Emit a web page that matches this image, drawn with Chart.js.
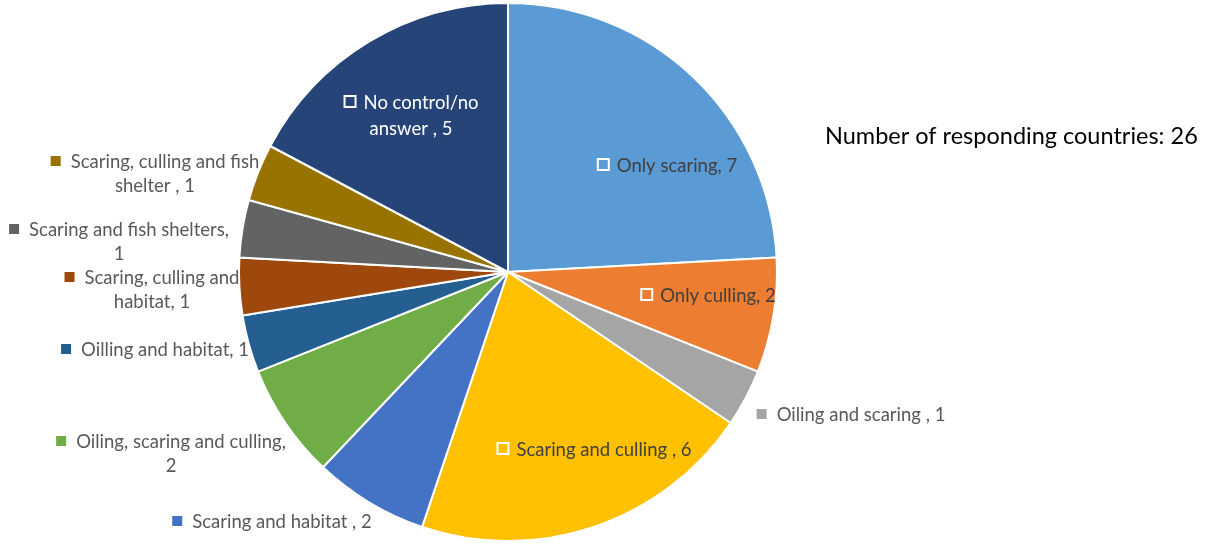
<!DOCTYPE html>
<html>
<head>
<meta charset="utf-8">
<script src="https://cdn.jsdelivr.net/npm/chart.js@4/dist/chart.umd.min.js"></script>
<style>
  html, body { margin: 0; padding: 0; background: #fff; }
  #wrap { width: 1210px; height: 544px; position: relative; }
</style>
</head>
<body>
<div id="wrap"><canvas id="myChart" width="1210" height="544"></canvas></div>
<script>
const categories = ['Only scaring', 'Only culling', 'Oiling and scaring ', 'Scaring and culling ',
  'Scaring and habitat ', 'Oiling, scaring and culling', 'Oilling and habitat', 'Scaring, culling and habitat',
  'Scaring and fish shelters', 'Scaring, culling and fish shelter ', 'No control/no answer '];
const counts = [7, 2, 1, 6, 2, 2, 1, 1, 1, 1, 5];
const respondents = 26;

const colors = ['#5B9BD5', '#ED7D31', '#A5A5A5', '#FFC000', '#4472C4', '#70AD47',
  '#255E91', '#9E480E', '#636363', '#997300', '#264478'];

// label text lines (as wrapped in the picture), position of the label block and whether it sits inside
const labelLines = [
  ['Only scaring, 7'], ['Only culling, 2'], ['Oiling and scaring , 1'], ['Scaring and culling , 6'],
  ['Scaring and habitat , 2'], ['Oiling, scaring and culling,', '2'], ['Oilling and habitat, 1'],
  ['Scaring, culling and', 'habitat, 1'], ['Scaring and fish shelters,', '1'],
  ['Scaring, culling and fish', 'shelter , 1'], ['No control/no', 'answer , 5']
];
const labelAt = [[667, 165], [708, 295], [851, 414], [594, 449], [272, 521], [171, 441],
  [155, 349], [152, 277], [119, 229], [155, 161], [411, 102]];
const inside = [true, true, false, true, false, false, false, false, false, false, true];

const labelPlugin = {
  id: 'sliceLabels',
  afterDraw(chart) {
    const c = chart.ctx;
    c.save();
    c.font = '18.5px Lato, "Open Sans", sans-serif';
    c.textBaseline = 'middle';
    c.textAlign = 'left';
    labelLines.forEach((lines, i) => {
      const [cx, cy] = labelAt[i];
      const lh = inside[i] ? 26 : 24;
      const textColor = inside[i] ? (i === 10 ? '#ffffff' : '#404040') : '#595959';
      lines.forEach((t, k) => {
        const tw = c.measureText(t).width;
        const y = cy + k * lh;
        if (k === 0) {
          const w = 20 + tw;
          const x0 = cx - w / 2;
          if (inside[i]) {
            c.fillStyle = colors[i];
            c.fillRect(x0 + 1, y - 6, 11, 11);
            c.strokeStyle = '#ffffff';
            c.lineWidth = 2;
            c.strokeRect(x0 + 1, y - 6, 11, 11);
          } else {
            c.fillStyle = colors[i];
            c.fillRect(x0, y - 5, 10, 10);
          }
          c.fillStyle = textColor;
          c.fillText(t, x0 + 20, y + 1);
        } else {
          c.fillStyle = textColor;
          c.fillText(t, cx - tw / 2, y + 1);
        }
      });
    });
    c.font = '23.5px Lato, "Open Sans", sans-serif';
    c.fillStyle = '#000000';
    c.fillText('Number of responding countries: ' + respondents, 825, 136);
    c.restore();
  }
};

const ctx = document.getElementById('myChart');

new Chart(ctx, {
  type: 'pie',
  data: {
    labels: categories,
    datasets: [{
      data: counts,
      backgroundColor: colors,
      borderColor: '#ffffff',
      borderWidth: 2
    }]
  },
  options: {
    responsive: false,
    animation: false,
    layout: { padding: { left: 238, right: 432, top: 2, bottom: 2 } },
    plugins: {
      legend: { display: false },
      tooltip: { enabled: false }
    }
  },
  plugins: [labelPlugin]
});
</script>
</body>
</html>
